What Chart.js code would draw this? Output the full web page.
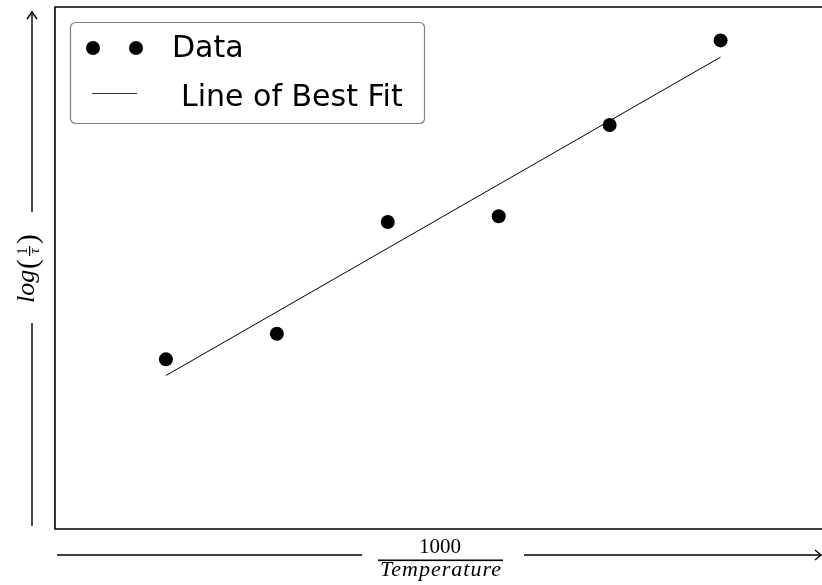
<!DOCTYPE html>
<html>
<head>
<meta charset="utf-8">
<title>Arrhenius plot</title>
<script src="https://cdn.jsdelivr.net/npm/chart.js@4/dist/chart.umd.min.js"></script>
<style>
  html, body { margin: 0; padding: 0; background: #ffffff; overflow: hidden; }
  #wrap { width: 822px; height: 585px; overflow: hidden; }
  canvas { display: block; }
</style>
</head>
<body>
<div id="wrap"><canvas id="c" width="840" height="585"></canvas></div>
<script>
// Measured points: 1000/T against log(1/tau), arbitrary units
const invTemperature = [1, 2, 3, 4, 5, 6];
const logInvTau = [3.25, 3.74, 5.88, 5.99, 7.74, 9.36];

// Least-squares line endpoints
const fitX = [1, 6];
const fitY = [2.94, 9.04];

// Axis ranges
const xRange = [0, 7];
const yRange = [0, 10];

// Legend entries
const legendLabels = ['Data', 'Line of Best Fit'];

const dataPoints = invTemperature.map((x, i) => ({ x: x, y: logInvTau[i] }));
const fitPoints = fitX.map((x, i) => ({ x: x, y: fitY[i] }));

function segment(ctx, x1, y1, x2, y2) {
  ctx.beginPath();
  ctx.moveTo(x1, y1);
  ctx.lineTo(x2, y2);
  ctx.stroke();
}

// Frame, axis captions with arrows, and legend box
const decorations = {
  id: 'decorations',
  afterDraw(chart) {
    const ctx = chart.ctx;
    const a = chart.chartArea;
    ctx.save();

    // frame
    ctx.strokeStyle = '#000';
    ctx.lineWidth = 1.6;
    ctx.beginPath();
    ctx.moveTo(a.right, a.top);
    ctx.lineTo(a.left, a.top);
    ctx.lineTo(a.left, a.bottom);
    ctx.lineTo(a.right, a.bottom);
    ctx.lineTo(a.right, a.top);
    ctx.stroke();

    // horizontal arrow with caption
    ctx.lineWidth = 1.4;
    const ay = 555;
    segment(ctx, 57, ay, 362, ay);
    segment(ctx, 524, ay, 821, ay);
    ctx.beginPath();
    ctx.moveTo(815, ay - 5);
    ctx.lineTo(821, ay);
    ctx.lineTo(815, ay + 5);
    ctx.stroke();

    ctx.fillStyle = '#000';
    ctx.textAlign = 'center';
    ctx.textBaseline = 'alphabetic';
    ctx.font = '21px "Liberation Serif"';
    ctx.fillText('1000', 440, 553);
    ctx.fillRect(378, 559.5, 125, 1.6);
    ctx.font = 'italic 22px "Liberation Serif"';
    ctx.letterSpacing = '1px';
    ctx.fillText('Temperature', 441, 576);
    ctx.letterSpacing = '0px';

    // vertical arrow with caption
    const ax = 32;
    segment(ctx, ax, 12, ax, 212);
    segment(ctx, ax, 323, ax, 526);
    ctx.beginPath();
    ctx.moveTo(ax - 5, 19);
    ctx.lineTo(ax, 12);
    ctx.lineTo(ax + 5, 19);
    ctx.stroke();

    ctx.save();
    ctx.translate(34, 303);
    ctx.rotate(-Math.PI / 2);
    ctx.textAlign = 'left';
    ctx.font = 'italic 26px "Liberation Serif"';
    ctx.fillText('log', 0, 0);
    ctx.font = '29px "Liberation Serif"';
    ctx.fillText('(', 34, 3);
    ctx.textAlign = 'center';
    ctx.font = '15px "Liberation Serif"';
    ctx.fillText('1', 52, -7);
    ctx.fillRect(47, -5, 10, 1.2);
    ctx.font = 'italic 15px "Liberation Serif"';
    ctx.fillText('τ', 52, 5);
    ctx.textAlign = 'left';
    ctx.font = '29px "Liberation Serif"';
    ctx.fillText(')', 59, 3);
    ctx.restore();

    // legend
    const lx = 70, ly = 22, lw = 354, lh = 101;
    ctx.beginPath();
    ctx.roundRect(lx + 0.5, ly + 0.5, lw, lh, 5);
    ctx.fillStyle = '#ffffff';
    ctx.fill();
    ctx.strokeStyle = '#808080';
    ctx.lineWidth = 1.2;
    ctx.stroke();

    ctx.fillStyle = '#000';
    [93, 136].forEach(cx => {
      ctx.beginPath();
      ctx.arc(cx, 48, 7, 0, Math.PI * 2);
      ctx.fill();
    });
    ctx.strokeStyle = '#333';
    ctx.lineWidth = 1;
    segment(ctx, 92, 93.5, 137, 93.5);

    ctx.font = '30px "DejaVu Sans"';
    ctx.textAlign = 'left';
    ctx.fillText(legendLabels[0], 172, 57);
    ctx.fillText(legendLabels[1], 181, 106);

    ctx.restore();
  }
};

new Chart(document.getElementById('c'), {
  data: {
    datasets: [
      {
        type: 'scatter',
        label: legendLabels[0],
        data: dataPoints,
        pointRadius: 7,
        pointBackgroundColor: '#000',
        pointBorderColor: '#000',
        pointBorderWidth: 0,
        order: 1
      },
      {
        type: 'line',
        label: legendLabels[1],
        data: fitPoints,
        borderColor: '#000',
        borderWidth: 1,
        pointRadius: 0,
        fill: false,
        order: 2
      }
    ]
  },
  options: {
    responsive: false,
    animation: false,
    devicePixelRatio: 1,
    layout: { padding: { left: 55, top: 6, right: 8.5, bottom: 56 } },
    scales: {
      x: { type: 'linear', min: xRange[0], max: xRange[1], display: false },
      y: { type: 'linear', min: yRange[0], max: yRange[1], display: false }
    },
    plugins: {
      legend: { display: false },
      tooltip: { enabled: false }
    }
  },
  plugins: [decorations]
});
</script>
</body>
</html>
